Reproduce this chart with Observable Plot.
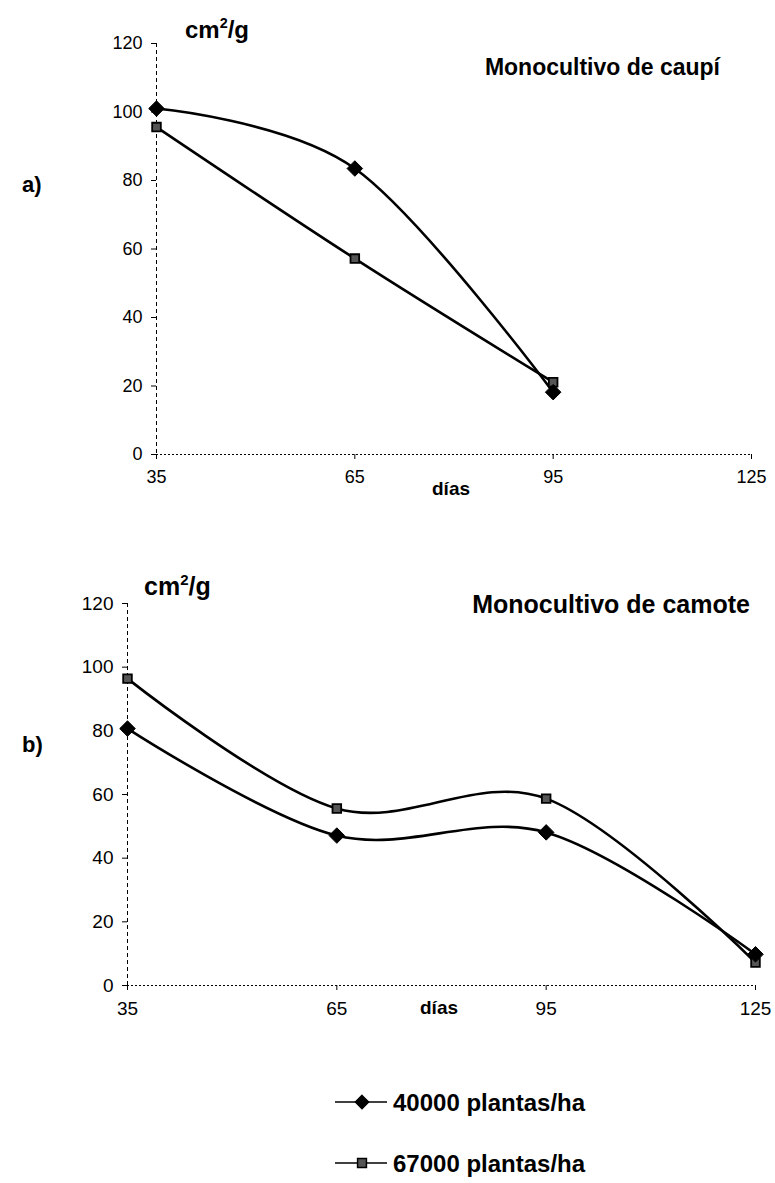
<!DOCTYPE html>
<html>
<head>
<meta charset="utf-8">
<script src="https://cdn.jsdelivr.net/npm/d3@7"></script>
<script src="https://cdn.jsdelivr.net/npm/@observablehq/plot@0.6"></script>
<style>
  html, body { margin: 0; padding: 0; background: #fff; }
  #wrap { position: relative; width: 775px; height: 1183px; background: #fff; overflow: hidden; font-family: "Liberation Sans", Arial, sans-serif; }
  .chart { position: absolute; left: 0; }
  #overlay { position: absolute; left: 0; top: 0; pointer-events: none; }
</style>
</head>
<body>
<div id="wrap">
  <div id="chartA" class="chart" style="top:0px"></div>
  <div id="chartB" class="chart" style="top:540px"></div>
  <svg id="overlay" width="775" height="1183"></svg>
</div>
<script>
// ---- data ----
const series = ["40000 plantas/ha", "67000 plantas/ha"];
const xTicks = [35, 65, 95, 125];
const yTicks = [0, 20, 40, 60, 80, 100, 120];

const daysCaupi = [35, 65, 95];
const caupi40000 = [101, 83.5, 18.2];
const caupi67000 = [95.6, 57.2, 21.1];

const daysCamote = [35, 65, 95, 125];
const camote40000 = [80.7, 47.1, 48.1, 9.8];
const camote67000 = [96.4, 55.6, 58.7, 7.2];

const titles = ["Monocultivo de caupí", "Monocultivo de camote"];
const unitLabel = "cm²/g";
const xLabel = "días";

function table(days, s1, s2) {
  return [
    ...days.map((d, i) => ({dia: d, v: s1[i], serie: series[0]})),
    ...days.map((d, i) => ({dia: d, v: s2[i], serie: series[1]}))
  ];
}

function makeChart(data, opts) {
  return Plot.plot({
    width: 775,
    height: opts.height,
    marginLeft: opts.ml,
    marginRight: opts.mr,
    marginTop: opts.mt,
    marginBottom: opts.mb,
    style: {fontFamily: '"Liberation Sans", Arial, sans-serif', fontSize: opts.fs + "px", color: "#000", background: "transparent", overflow: "visible"},
    x: {domain: [35, 125], ticks: xTicks, tickSize: 5, tickPadding: 11, label: null},
    y: {domain: [0, 120], ticks: yTicks, tickSize: 5, tickPadding: 9, label: null},
    marks: [
      Plot.ruleX([35], {stroke: "#000", strokeWidth: 1, strokeDasharray: "4,3"}),
      Plot.ruleY([0], {stroke: "#000", strokeWidth: 1, strokeDasharray: "2,2"}),
      Plot.line(data, {x: "dia", y: "v", z: "serie", curve: "cardinal", stroke: "#000", strokeWidth: 2.6}),
      Plot.dot(data.filter(d => d.serie === series[1]), {x: "dia", y: "v", symbol: "square2", r: 5.5, fill: "#555", stroke: "#000", strokeWidth: 1.8}),
      Plot.dot(data.filter(d => d.serie === series[0]), {x: "dia", y: "v", symbol: "diamond2", r: 7, fill: "#000", stroke: "#000", strokeWidth: 1})
    ]
  });
}

document.getElementById("chartA").appendChild(
  makeChart(table(daysCaupi, caupi40000, caupi67000), {height: 500, ml: 156, mr: 24, mt: 43, mb: 46, fs: 18})
);
document.getElementById("chartB").appendChild(
  makeChart(table(daysCamote, camote40000, camote67000), {height: 500, ml: 127, mr: 20, mt: 63, mb: 55, fs: 19})
);

// ---- annotations ----
const ov = d3.select("#overlay");
const F = '"Liberation Sans", Arial, sans-serif';
function txt(x, y, s, size, anchor = "start") {
  return ov.append("text").attr("x", x).attr("y", y).attr("font-family", F)
    .attr("font-size", size).attr("font-weight", "bold").attr("text-anchor", anchor).attr("fill", "#000").text(s);
}
function unit(x, y, size) {
  const t = ov.append("text").attr("x", x).attr("y", y).attr("font-family", F)
    .attr("font-size", size).attr("font-weight", "bold").attr("fill", "#000");
  t.append("tspan").text("cm");
  t.append("tspan").attr("font-size", size * 0.6).attr("dy", -size * 0.42).text("2");
  t.append("tspan").attr("dy", size * 0.42).text("/g");
}
txt(22, 192, "a)", 22);
unit(185, 38, 24);
txt(720, 75, titles[0], 23, "end");
txt(432, 495, xLabel, 19);

txt(22, 752, "b)", 22);
unit(144, 595, 25);
txt(750, 613, titles[1], 25, "end");
txt(420, 1014, xLabel, 19);

// legend
const leg = [{y: 1102, s: series[0], sym: d3.symbolDiamond2, fill: "#000", size: 110},
             {y: 1163, s: series[1], sym: d3.symbolSquare2, fill: "#555", size: 100}];
leg.forEach(l => {
  ov.append("line").attr("x1", 335).attr("x2", 387).attr("y1", l.y).attr("y2", l.y).attr("stroke", "#000").attr("stroke-width", 1.5);
  ov.append("path").attr("d", d3.symbol(l.sym, l.size)()).attr("transform", `translate(362,${l.y})`)
    .attr("fill", l.fill).attr("stroke", "#000").attr("stroke-width", 1.5);
  txt(393, l.y + 9, l.s, 24);
});
</script>
</body>
</html>
